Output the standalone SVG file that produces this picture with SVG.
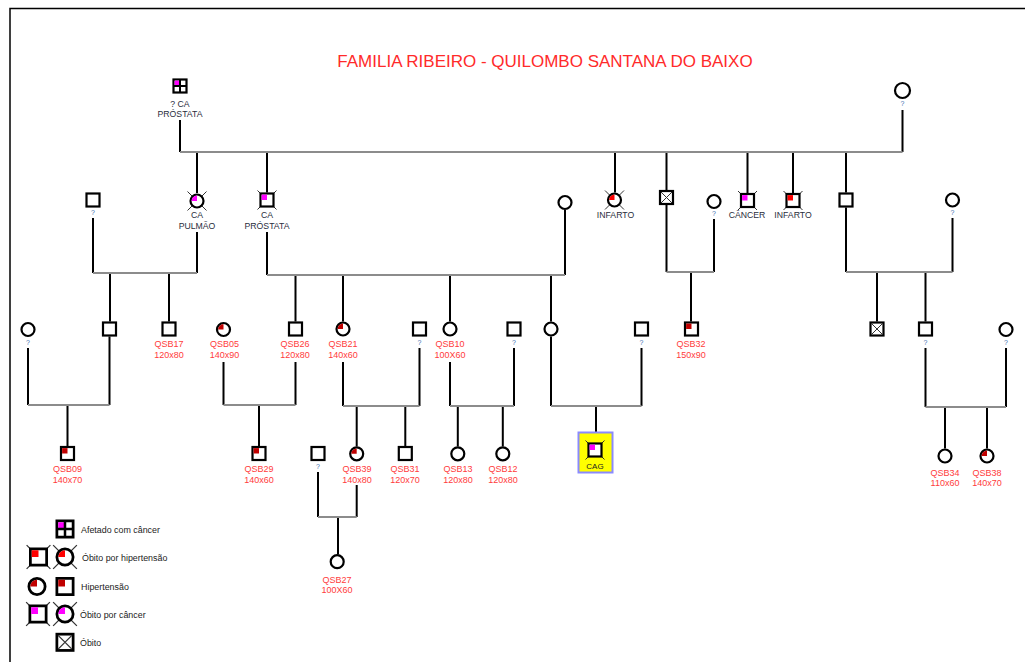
<svg xmlns="http://www.w3.org/2000/svg" width="1025" height="662" viewBox="0 0 1025 662">
<style>
.v{stroke:#000;stroke-width:2;fill:none}
.h{stroke:#8c8c8c;stroke-width:2;fill:none}
.t{font-family:"Liberation Sans",Arial,sans-serif;text-anchor:middle}
.lbl{font-size:8.7px;fill:#2a2d3c}
.q{font-size:7px;fill:#3d6fb0}
.qsb{font-size:9px;fill:#ff3b3b}
.leg{font-family:"Liberation Sans",Arial,sans-serif;font-size:8.9px;fill:#222}
.title{font-family:"Liberation Sans",Arial,sans-serif;font-size:17px;fill:#ff2a2a;text-anchor:middle}
</style>
<defs>
<rect id="m" x="-6.5" y="-6.5" width="13" height="13" fill="#fff" stroke="#000" stroke-width="2.2"/>
<circle id="f" r="6.5" fill="#fff" stroke="#000" stroke-width="2.2"/>
<path id="qm" d="M-5.4,-5.4h5.4v5.4h-5.4z"/>
<path id="qf" d="M0,0H-5.4A5.4,5.4 0 0 1 0,-5.4Z"/>
<g id="dx" stroke="#333" stroke-width="1"><line x1="-9.5" y1="-9.5" x2="9.5" y2="9.5"/><line x1="9.5" y1="-9.5" x2="-9.5" y2="9.5"/></g>
<g id="xb"><rect x="-6.5" y="-6.5" width="13" height="13" fill="#fff" stroke="#000" stroke-width="2.2"/><path d="M-5.5,-5.5L5.5,5.5M5.5,-5.5L-5.5,5.5" stroke="#333" stroke-width="1"/></g>
<g id="mc"><rect x="-6.5" y="-6.5" width="13" height="13" fill="#fff" stroke="#000" stroke-width="2.2"/><rect x="-5.4" y="-5.4" width="5.4" height="5.4" fill="#ff00ff"/><path d="M0,-6.5V6.5M-6.5,0H6.5" stroke="#000" stroke-width="2"/></g>
</defs>
<rect width="1025" height="662" fill="#fff"/>
<path d="M10,662V8.5H1025" stroke="#000" stroke-width="1.5" fill="none"/>
<text class="title" x="545" y="67">FAMILIA RIBEIRO - QUILOMBO SANTANA DO BAIXO</text>

<g id="connectors">
<path class="v" d="M180,120V152M902.5,110V152M197,152V193M267,152V192.5M615,152V192.5M666.5,152V190M747.5,152V193M793,152V193M846,152V192.5"/>
<path class="h" d="M180,152H902.5"/>
<path class="v" d="M93,218V273M197,232V273M110,273V321.5M169,273V321.5"/>
<path class="h" d="M93,273H197"/>
<path class="v" d="M267,232V275M565,210V275M295.5,275V321.5M343,275V321.5M450,275V321.5M551,275V321.5"/>
<path class="h" d="M267,275H565"/>
<path class="v" d="M666.5,205V272M714,219V272M691,272V321.5"/>
<path class="h" d="M666.5,272H714"/>
<path class="v" d="M846,207.5V272M952.5,218V272M877,272V321.5M925.5,272V321.5"/>
<path class="h" d="M846,272H952.5"/>
<path class="v" d="M28,348V405M109.5,336.5V405M67.5,405V446"/>
<path class="h" d="M28,405H109.5"/>
<path class="v" d="M223.5,362V405M295.5,362V405M259,405V446"/>
<path class="h" d="M223.5,405H295.5"/>
<path class="v" d="M343,362V406M419.5,348V406M356.7,406V446.5M405.3,406V446"/>
<path class="h" d="M343,406H419.5"/>
<path class="v" d="M450,362V406M514,348V406M457.8,406V446.5M502.8,406V446.5"/>
<path class="h" d="M450,406H514"/>
<path class="v" d="M551,336.5V406M641.5,348V406M596,406V432"/>
<path class="h" d="M551,406H641.5"/>
<path class="v" d="M925.5,348V407M1006,348V407M945,407V448.5M987,407V448.5"/>
<path class="h" d="M925.5,407H1006"/>
<path class="v" d="M318,472V517M356.7,485V517M338,517V554.5"/>
<path class="h" d="M318,517H356.7"/>
</g>

<g id="g1_founder_m"><use href="#mc" x="180" y="86"/><text class="t lbl" x="180" y="106.5">? CA</text><text class="t lbl" x="180" y="117">PRÓSTATA</text></g>
<g id="g1_founder_f"><circle cx="902.5" cy="90.5" r="7.5" fill="#fff" stroke="#000" stroke-width="2.2"/><text class="t q" x="902.5" y="106">?</text></g>

<g id="g2_m93"><use href="#m" x="93" y="200"/><text class="t q" x="93" y="215">?</text></g>
<g id="g2_f_capulmao"><use href="#dx" x="197" y="201"/><use href="#f" x="197" y="201"/><use href="#qf" x="197" y="201" fill="#ff00ff"/><text class="t lbl" x="197" y="217.5">CA</text><text class="t lbl" x="197" y="229">PULMÃO</text></g>
<g id="g2_m_caprostata"><use href="#dx" x="267" y="200"/><use href="#m" x="267" y="200"/><use href="#qm" x="267" y="200" fill="#ff00ff"/><text class="t lbl" x="267" y="217.5">CA</text><text class="t lbl" x="267" y="229">PRÓSTATA</text></g>
<g id="g2_f565"><use href="#f" x="565" y="202.5"/></g>
<g id="g2_f_infarto"><use href="#dx" x="614.5" y="200"/><use href="#f" x="614.5" y="200"/><use href="#qf" x="614.5" y="200" fill="#ff0000"/><text class="t lbl" x="615.5" y="218">INFARTO</text></g>
<g id="g2_m_obito"><use href="#xb" x="666.5" y="197.5"/></g>
<g id="g2_f714"><use href="#f" x="714" y="201.5"/><text class="t q" x="714" y="216">?</text></g>
<g id="g2_m_cancer"><use href="#dx" x="747.5" y="200.5"/><use href="#m" x="747.5" y="200.5"/><use href="#qm" x="747.5" y="200.5" fill="#ff00ff"/><text class="t lbl" x="747" y="218">CÂNCER</text></g>
<g id="g2_m_infarto"><use href="#dx" x="793" y="200.5"/><use href="#m" x="793" y="200.5"/><use href="#qm" x="793" y="200.5" fill="#ff0000"/><text class="t lbl" x="793" y="218">INFARTO</text></g>
<g id="g2_m846"><use href="#m" x="846" y="200"/></g>
<g id="g2_f953"><use href="#f" x="952.5" y="200"/><text class="t q" x="952.5" y="215">?</text></g>

<g id="g3_f28"><use href="#f" x="28" y="329.5"/><text class="t q" x="28" y="345">?</text></g>
<g id="g3_m110"><use href="#m" x="109.5" y="329"/></g>
<g id="g3_qsb17"><use href="#m" x="169" y="329"/><text class="t qsb" x="169" y="347">QSB17</text><text class="t qsb" x="169" y="358">120x80</text></g>
<g id="g3_qsb05"><use href="#f" x="223.5" y="329.5"/><use href="#qf" x="223.5" y="329.5" fill="#c00000"/><text class="t qsb" x="224.5" y="347">QSB05</text><text class="t qsb" x="224.5" y="358">140x90</text></g>
<g id="g3_qsb26"><use href="#m" x="295.5" y="329"/><text class="t qsb" x="295" y="347">QSB26</text><text class="t qsb" x="295" y="358">120x80</text></g>
<g id="g3_qsb21"><use href="#f" x="343" y="329"/><use href="#qf" x="343" y="329" fill="#c00000"/><text class="t qsb" x="343" y="347">QSB21</text><text class="t qsb" x="343" y="358">140x60</text></g>
<g id="g3_m420"><use href="#m" x="419.5" y="329"/><text class="t q" x="419.5" y="345">?</text></g>
<g id="g3_qsb10"><use href="#f" x="450" y="329"/><text class="t qsb" x="450" y="347">QSB10</text><text class="t qsb" x="450" y="358">100X60</text></g>
<g id="g3_m514"><use href="#m" x="514" y="329"/><text class="t q" x="514" y="345">?</text></g>
<g id="g3_f551"><use href="#f" x="551" y="329"/></g>
<g id="g3_m641"><use href="#m" x="641.5" y="329"/><text class="t q" x="641.5" y="345">?</text></g>
<g id="g3_qsb32"><use href="#m" x="691.5" y="329"/><use href="#qm" x="691.5" y="329" fill="#c00000"/><text class="t qsb" x="691" y="347">QSB32</text><text class="t qsb" x="691" y="358">150x90</text></g>
<g id="g3_m877"><use href="#xb" x="877" y="329"/></g>
<g id="g3_m925"><use href="#m" x="925.5" y="329"/><text class="t q" x="925.5" y="345">?</text></g>
<g id="g3_f1006"><use href="#f" x="1006" y="329.5"/><text class="t q" x="1006" y="345">?</text></g>

<g id="g4_qsb09"><use href="#m" x="67.5" y="453.5"/><use href="#qm" x="67.5" y="453.5" fill="#c00000"/><text class="t qsb" x="67.5" y="472">QSB09</text><text class="t qsb" x="67.5" y="482.5">140x70</text></g>
<g id="g4_qsb29"><use href="#m" x="259" y="453.5"/><use href="#qm" x="259" y="453.5" fill="#c00000"/><text class="t qsb" x="259" y="472">QSB29</text><text class="t qsb" x="259" y="482.5">140x60</text></g>
<g id="g4_m318"><use href="#m" x="318" y="453.5"/><text class="t q" x="318" y="469">?</text></g>
<g id="g4_qsb39"><use href="#f" x="356.7" y="453.8"/><use href="#qf" x="356.7" y="453.8" fill="#c00000"/><text class="t qsb" x="357" y="472">QSB39</text><text class="t qsb" x="357" y="482.5">140x80</text></g>
<g id="g4_qsb31"><use href="#m" x="405.3" y="453.5"/><text class="t qsb" x="405" y="472">QSB31</text><text class="t qsb" x="405" y="482.5">120x70</text></g>
<g id="g4_qsb13"><use href="#f" x="457.8" y="453.8"/><text class="t qsb" x="458" y="472">QSB13</text><text class="t qsb" x="458" y="482.5">120x80</text></g>
<g id="g4_qsb12"><use href="#f" x="502.8" y="453.8"/><text class="t qsb" x="503" y="472">QSB12</text><text class="t qsb" x="503" y="482.5">120x80</text></g>
<g id="g4_cag"><rect x="578.5" y="432.5" width="34" height="40" fill="#ffff00" stroke="#8a8aff" stroke-width="2"/><use href="#dx" x="595" y="450"/><use href="#m" x="595" y="450"/><use href="#qm" x="595" y="450" fill="#ff00ff"/><text class="t" x="595" y="469" font-size="8" fill="#222">CAG</text></g>
<g id="g4_qsb34"><use href="#f" x="945" y="456"/><text class="t qsb" x="945" y="475.5">QSB34</text><text class="t qsb" x="945" y="485.5">110x60</text></g>
<g id="g4_qsb38"><use href="#f" x="987" y="456"/><use href="#qf" x="987" y="456" fill="#c00000"/><text class="t qsb" x="987" y="475.5">QSB38</text><text class="t qsb" x="987" y="485.5">140x70</text></g>

<g id="g5_qsb27"><use href="#f" x="337.2" y="561.7"/><text class="t qsb" x="337" y="582.5">QSB27</text><text class="t qsb" x="337" y="592.5">100X60</text></g>

<g id="legend">
<use href="#mc" transform="translate(65,529) scale(1.25)"/>
<text class="leg" x="81" y="532.5">Afetado com câncer</text>
<g transform="translate(38.5,557) scale(1.25)"><use href="#dx"/><use href="#m"/><use href="#qm" fill="#ff0000"/></g>
<g transform="translate(65,557) scale(1.25)"><use href="#dx"/><use href="#f"/><use href="#qf" fill="#ff0000"/></g>
<text class="leg" x="82" y="560.5">Óbito por hipertensão</text>
<g transform="translate(37,586.5) scale(1.25)"><use href="#f"/><use href="#qf" fill="#c00000"/></g>
<g transform="translate(65,586.5) scale(1.25)"><use href="#m"/><use href="#qm" fill="#c00000"/></g>
<text class="leg" x="81" y="590">Hipertensão</text>
<g transform="translate(38,614) scale(1.25)"><use href="#dx"/><use href="#m"/><use href="#qm" fill="#ff00ff"/></g>
<g transform="translate(65,614) scale(1.25)"><use href="#dx"/><use href="#f"/><use href="#qf" fill="#ff00ff"/></g>
<text class="leg" x="80" y="617.5">Óbito por câncer</text>
<use href="#xb" transform="translate(65,642.3) scale(1.25)"/>
<text class="leg" x="80" y="646">Óbito</text>
</g>
</svg>
